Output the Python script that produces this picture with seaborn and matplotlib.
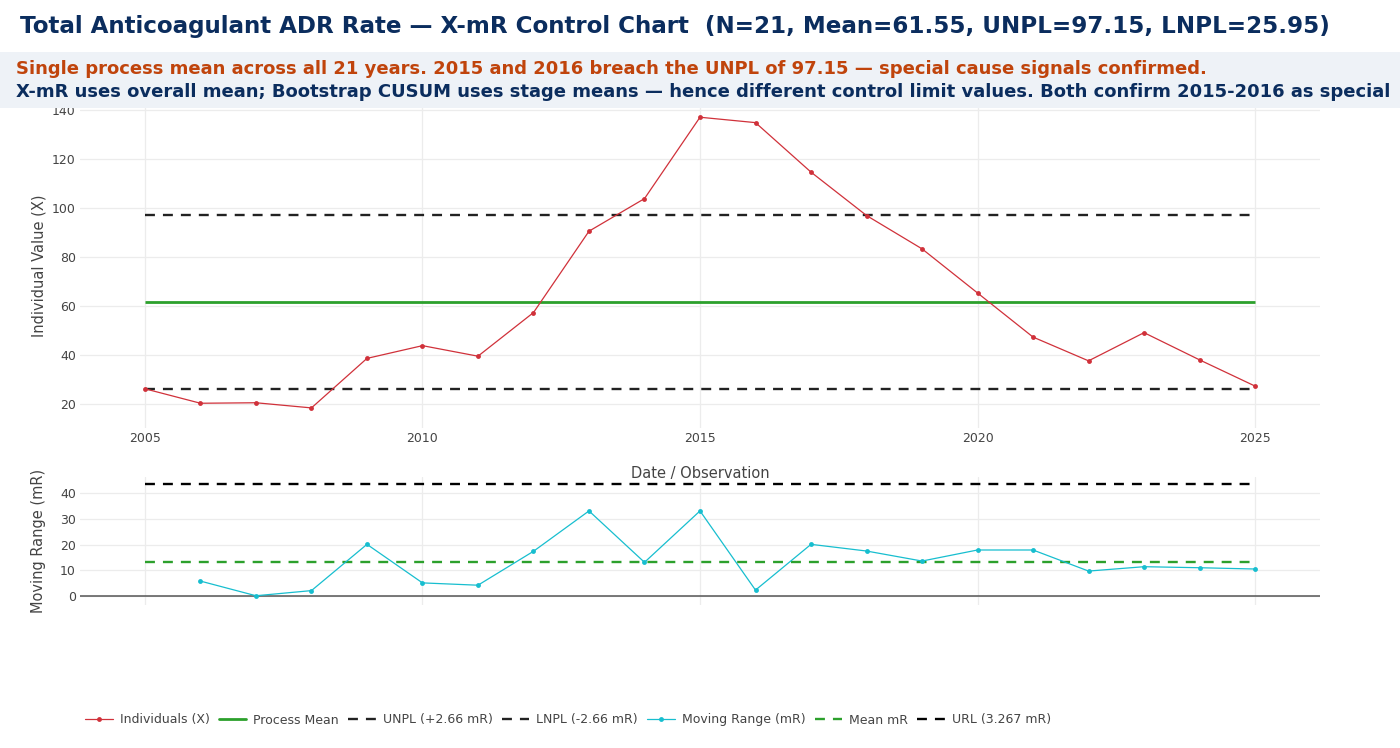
import matplotlib
matplotlib.use('Agg')
import matplotlib.pyplot as plt
from matplotlib.lines import Line2D
from matplotlib.patches import Rectangle
import seaborn as sns


years = list(range(2005, 2026))
individuals = [26.2, 20.3, 20.5, 18.4, 38.6, 43.8, 39.5, 57.3, 90.5, 103.8, 137.0,
               134.8, 114.6, 96.9, 83.3, 65.3, 47.3, 37.6, 49.1, 38.0, 27.3]
mr_years = years[1:]
moving_range = [5.8, 0.1, 2.1, 20.1, 5.1, 4.2, 17.4, 33.1, 13.1, 33.1,
                2.3, 20.1, 17.5, 13.6, 17.9, 17.9, 9.7, 11.4, 11.0, 10.5]
process_mean = 61.55
unpl = 97.15
lnpl = 25.95
mr_mean = 13.38
url = 43.72

title = ('Total Anticoagulant ADR Rate \u2014 X-mR Control Chart  '
         '(N=21, Mean=61.55, UNPL=97.15, LNPL=25.95)')
note1 = ('Single process mean across all 21 years. 2015 and 2016 breach the UNPL of 97.15 '
         '\u2014 special cause signals confirmed.')
note2 = ('X-mR uses overall mean; Bootstrap CUSUM uses stage means \u2014 hence different '
         'control limit values. Both confirm 2015-2016 as special')

NAVY = '#0b2d5e'
ORANGE = '#c0440c'
RED = '#d0313a'
GREEN = '#2ca02c'
CYAN = '#17becf'
GRID = '#ececec'
TXT = '#444444'

sns.set_style('white')
plt.rcParams['font.family'] = ['DejaVu Sans']

W, H = 1400, 748
fig = plt.figure(figsize=(W / 100, H / 100), dpi=100)


def px_axes(x0, y0, x1, y1):
    return fig.add_axes([x0 / W, 1 - y1 / H, (x1 - x0) / W, (y1 - y0) / H])


ax1 = px_axes(80, 104, 1320, 428)
ax2 = px_axes(80, 477, 1320, 605)
ax2.patch.set_alpha(0)

dash = (0, (4.2, 3.4))

# individuals chart
sns.lineplot(x=years, y=individuals, ax=ax1, color=RED, linewidth=0.9, marker='o',
             markersize=3.5, markeredgewidth=0, label='Individuals (X)', legend=False, zorder=4)
ax1.hlines(process_mean, years[0], years[-1], color=GREEN, linewidth=2, zorder=3)
ax1.hlines(unpl, years[0], years[-1], color='#222222', linewidth=1.7, linestyles=dash, zorder=3)
ax1.hlines(lnpl, years[0], years[-1], color='#222222', linewidth=1.7, linestyles=dash, zorder=3)

# moving range chart
sns.lineplot(x=mr_years, y=moving_range, ax=ax2, color=CYAN, linewidth=0.9, marker='o',
             markersize=3.5, markeredgewidth=0, label='Moving Range (mR)', legend=False, zorder=4)
ax2.hlines(mr_mean, years[0], years[-1], color=GREEN, linewidth=1.7, linestyles=dash, zorder=3)
ax2.hlines(url, years[0], years[-1], color='black', linewidth=1.7, linestyles=dash, zorder=3,
           clip_on=False)
ax2.axhline(0, color='#555555', linewidth=1.1, zorder=2)

for ax in (ax1, ax2):
    ax.set_xlim(2003.83, 2026.17)
    ax.set_xticks([2005, 2010, 2015, 2020, 2025])
    ax.grid(True, color=GRID, linewidth=0.9)
    ax.set_axisbelow(True)
    for s in ax.spines.values():
        s.set_visible(False)
    ax.tick_params(length=0, labelsize=9, labelcolor=TXT, pad=3)

ax1.set_ylim(10.2, 142.4)
ax1.set_yticks([20, 40, 60, 80, 100, 120, 140])
ax1.set_ylabel('Individual Value (X)', fontsize=10.5, color=TXT)
ax1.yaxis.set_label_coords(-34 / 1240, 0.5)
ax1.set_xlabel('Date / Observation', fontsize=10.5, color=TXT, labelpad=15)

ax2.set_ylim(-3.5, 46.3)
ax2.set_yticks([0, 10, 20, 30, 40])
ax2.set_xticklabels([])
ax2.set_ylabel('Moving Range (mR)', fontsize=10.5, color=TXT)
ax2.yaxis.set_label_coords(-34 / 1240, 0.5)

# header
fig.text(20 / W, 1 - 26 / H, title, fontsize=16.6, fontweight='bold', color=NAVY,
         va='center', ha='left')
fig.add_artist(Rectangle((0, 1 - 108 / H), 1, 56 / H, transform=fig.transFigure,
                         facecolor='#eef2f7', edgecolor='none', zorder=5))
fig.text(16 / W, 1 - 69 / H, note1, fontsize=13, fontweight='bold', color=ORANGE,
         va='center', ha='left', zorder=6)
fig.text(16 / W, 1 - 92 / H, note2, fontsize=13, fontweight='bold', color=NAVY,
         va='center', ha='left', zorder=6)

handles = [
    Line2D([], [], color=RED, linewidth=0.9, marker='o', markersize=3.5, markeredgewidth=0),
    Line2D([], [], color=GREEN, linewidth=2),
    Line2D([], [], color='#222222', linewidth=1.7, linestyle=dash),
    Line2D([], [], color='#222222', linewidth=1.7, linestyle=dash),
    Line2D([], [], color=CYAN, linewidth=0.9, marker='o', markersize=3.5, markeredgewidth=0),
    Line2D([], [], color=GREEN, linewidth=1.7, linestyle=dash),
    Line2D([], [], color='black', linewidth=1.7, linestyle=dash),
]
labels = ['Individuals (X)', 'Process Mean', 'UNPL (+2.66 mR)', 'LNPL (-2.66 mR)',
          'Moving Range (mR)', 'Mean mR', 'URL (3.267 mR)']
leg = fig.legend(handles, labels, loc='center left', bbox_to_anchor=(74 / W, 1 - 720 / H),
                 ncol=7, frameon=False, fontsize=9, handlelength=2.2, handletextpad=0.55,
                 columnspacing=0.75)
for t in leg.get_texts():
    t.set_color(TXT)

fig.savefig('out.png', dpi=100)
